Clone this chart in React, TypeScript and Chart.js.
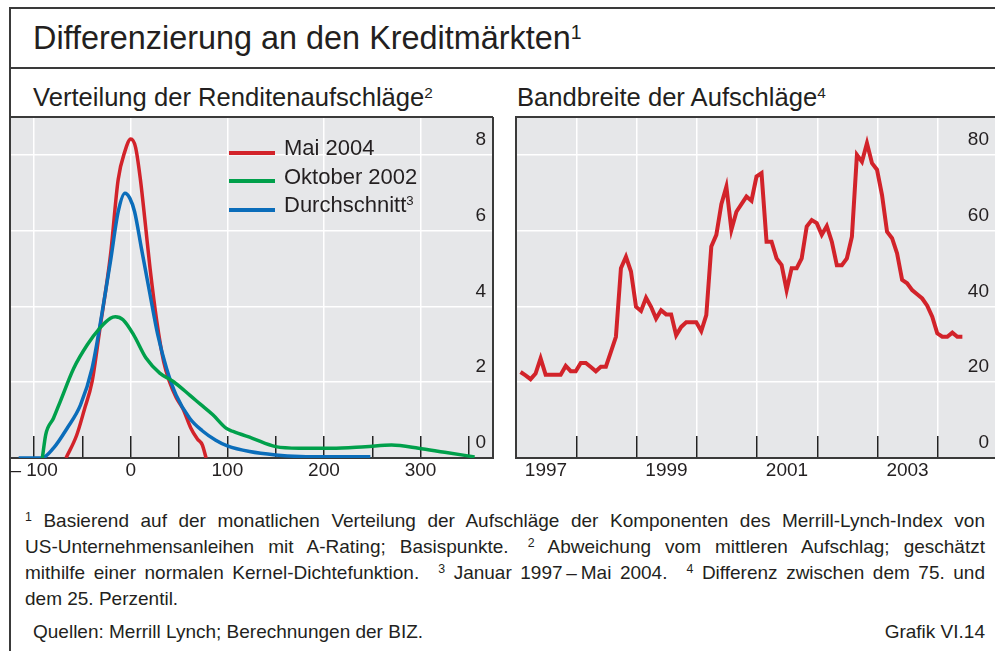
import React, { useEffect, useRef } from 'react';
import { Chart, registerables } from 'chart.js';

Chart.register(...registerables);

// ---------- text ----------
const TITLE = 'Differenzierung an den Kreditmärkten';
const LEFT_TITLE = 'Verteilung der Renditenaufschläge';
const RIGHT_TITLE = 'Bandbreite der Aufschläge';
const SERIES_NAMES = ['Mai 2004', 'Oktober 2002', 'Durchschnitt'];

// ---------- left panel: kernel densities (x = deviation in bp, y = density) ----------
const mai2004: [number, number][] = [
  [-67, 0], [-56, 0.6], [-48, 1.28], [-40, 2.02], [-32, 3.4], [-21, 5.35], [-13, 7.35],
  [-6, 8.1], [0, 8.42], [5, 8.2], [10, 7.35], [15, 6.2], [20, 5.0], [27, 3.6], [34, 2.55],
  [40, 2.02], [47, 1.6], [54, 1.3], [62, 0.8], [69, 0.5], [74, 0.35], [78, 0],
];
const oktober2002: [number, number][] = [
  [-91.5, 0], [-88, 0.62], [-80, 1.05], [-73, 1.49], [-59, 2.37], [-45, 2.99], [-32, 3.43],
  [-21, 3.69], [-16, 3.73], [-8, 3.65], [3, 3.25], [16, 2.63], [30, 2.24], [44, 2.02],
  [61, 1.66], [72, 1.42], [85, 1.14], [99, 0.78], [106, 0.7], [126, 0.52], [150, 0.3],
  [174, 0.26], [208, 0.26], [243, 0.3], [270, 0.34], [298, 0.26], [325, 0.15], [356, 0.03],
];
const durchschnitt: [number, number][] = [
  [-116, 0], [-92, 0], [-80, 0.26], [-66, 0.78], [-52, 1.4], [-40, 2.37], [-30, 3.78],
  [-21, 5.19], [-13, 6.5], [-6, 6.99], [-1, 6.86], [4, 6.5], [11, 5.54], [20, 4.31],
  [28, 3.25], [37, 2.37], [47, 1.66], [61, 1.05], [74, 0.72], [88, 0.47], [100, 0.32],
  [123, 0.17], [150, 0.08], [175, 0.04], [210, 0.03], [248, 0.03],
];
const spreadTickLabels = [-100, 0, 100, 200, 300];
const densityTickLabels = [0, 2, 4, 6, 8];

// ---------- right panel: monthly range (75th - 25th percentile), Jan 1997 - May 2004 ----------
const bandStartYear = 1997;
const bandValues = [
  22.7, 21.8, 20.8, 22.3, 26.3, 22.0, 22.0, 22.0, 22.0, 24.3, 22.9, 22.9,
  25.1, 25.1, 24.0, 22.9, 24.1, 24.1, 28.0, 32.0, 50.1, 53.1, 49.2, 39.9,
  38.8, 42.3, 39.9, 36.8, 39.0, 37.9, 37.9, 32.4, 34.6, 35.8, 35.8, 35.8,
  33.5, 37.7, 55.8, 58.9, 67.0, 71.6, 60.2, 65.0, 67.0, 69.0, 67.9, 74.3,
  75.2, 57.1, 57.1, 52.7, 50.9, 44.3, 50.1, 50.1, 52.7, 61.1, 62.8, 62.0,
  58.9, 61.2, 57.1, 50.9, 50.9, 52.7, 58.4, 80.0, 78.2, 83.1, 77.8, 76.1,
  69.4, 59.7, 58.0, 54.0, 47.0, 46.1, 44.3, 43.2, 42.1, 40.2, 37.3, 32.9,
  32.0, 32.0, 33.1, 32.0, 32.0,
];
const yearTickLabels = [1997, 1999, 2001, 2003];
const bandTickLabels = [0, 20, 40, 60, 80];

// ---------- styles ----------
const FONT = '"Liberation Sans", Arial, Helvetica, sans-serif';
const TEXT = '#231f20';
const RED = '#d2232a';
const GREEN = '#00a04b';
const BLUE = '#0b6dba';
const PLOT_BG = '#e6e7e9';
const GRID = '#ffffff';
const FRAME = '#3a3a3a';
const TICK = '#222222';
const CLEAR = 'rgba(0,0,0,0)';

Chart.defaults.font.family = FONT;
Chart.defaults.color = TEXT;

const panelPlugin = (drawRight: boolean) => ({
  id: 'panel',
  beforeDraw(chart: any) {
    const { ctx, chartArea: a } = chart;
    ctx.save();
    ctx.fillStyle = PLOT_BG;
    ctx.fillRect(a.left, a.top, a.right - a.left, a.bottom - a.top);
    ctx.restore();
  },
  beforeDatasetsDraw(chart: any) {
    const { ctx, chartArea: a } = chart;
    ctx.save();
    ctx.strokeStyle = FRAME;
    ctx.lineWidth = 2;
    ctx.beginPath();
    ctx.moveTo(a.right + (drawRight ? 0 : 2), a.top);
    ctx.lineTo(a.left, a.top);
    ctx.lineTo(a.left, a.bottom);
    ctx.lineTo(a.right + (drawRight ? 0 : 2), a.bottom);
    if (drawRight) {
      ctx.lineTo(a.right, a.top);
    }
    ctx.stroke();
    ctx.restore();
  },
});

const fmtSpread = (v: number) => (v < 0 ? '\u2013 ' + Math.abs(v) : String(v));

function DensityChart() {
  const ref = useRef<HTMLCanvasElement>(null);
  useEffect(() => {
    const mk = (label: string, pts: [number, number][], color: string) => ({
      label,
      data: pts.map(([x, y]) => ({ x, y })),
      borderColor: color,
      backgroundColor: color,
      borderWidth: 3.5,
      pointRadius: 0,
      cubicInterpolationMode: 'monotone' as const,
      fill: false,
    });
    const chart = new Chart(ref.current as HTMLCanvasElement, {
      type: 'line',
      data: {
        datasets: [
          mk(SERIES_NAMES[1], oktober2002, GREEN),
          mk(SERIES_NAMES[2], durchschnitt, BLUE),
          mk(SERIES_NAMES[0], mai2004, RED),
        ],
      },
      options: {
        animation: false,
        responsive: false,
        maintainAspectRatio: false,
        layout: { padding: { left: 10, top: 17, right: 7, bottom: 0 } },
        plugins: { legend: { display: false }, tooltip: { enabled: false } },
        scales: {
          x: {
            type: 'linear',
            position: 'bottom',
            min: -125,
            max: 375,
            afterFit: (s: any) => {
              s.height = 42;
              s.paddingLeft = 0;
              s.paddingRight = 0;
            },
            border: { display: false },
            grid: {
              color: (c: any) => (c.tick && spreadTickLabels.includes(c.tick.value) ? GRID : CLEAR),
              lineWidth: 1.5,
              drawTicks: true,
              tickLength: -22,
              tickWidth: 1.5,
              tickColor: (c: any) => (c.tick && c.tick.value % 50 === 0 ? TICK : CLEAR),
            },
            ticks: {
              maxTicksLimit: 20,
              includeBounds: false,
              autoSkip: false,
              maxRotation: 0,
              minRotation: 0,
              padding: 23,
              color: TEXT,
              font: { size: 19 },
              callback: (v: any) => (spreadTickLabels.includes(Number(v)) ? fmtSpread(Number(v)) : ''),
            },
          },
          y: {
            type: 'linear',
            position: 'right',
            min: 0,
            max: 9,
            afterFit: (s: any) => {
              s.width = 0;
              s.paddingTop = 0;
              s.paddingBottom = 0;
            },
            border: { display: false },
            grid: {
              color: (c: any) => (c.tick && c.tick.value > 0 && densityTickLabels.includes(c.tick.value) ? GRID : CLEAR),
              lineWidth: 1.5,
              drawTicks: false,
            },
            ticks: {
              stepSize: 2,
              includeBounds: false,
              mirror: true,
              padding: -7,
              labelOffset: -15,
              color: TEXT,
              font: { size: 19 },
              callback: (v: any) => (densityTickLabels.includes(Number(v)) ? String(v) : ''),
            },
          },
        },
      } as any,
      plugins: [panelPlugin(true)],
    });
    return () => chart.destroy();
  }, []);
  return (
    <canvas
      ref={ref}
      width={500}
      height={400}
      style={{ position: 'absolute', left: 0, top: 100, width: 500, height: 400 }}
    />
  );
}

function BandChart() {
  const ref = useRef<HTMLCanvasElement>(null);
  useEffect(() => {
    const chart = new Chart(ref.current as HTMLCanvasElement, {
      type: 'line',
      data: {
        datasets: [
          {
            label: RIGHT_TITLE,
            data: bandValues.map((v, i) => ({ x: bandStartYear + (i + 0.9) / 12, y: v })),
            borderColor: RED,
            backgroundColor: RED,
            borderWidth: 4,
            borderJoinStyle: 'miter',
            pointRadius: 0,
            tension: 0,
            fill: false,
          },
        ],
      },
      options: {
        animation: false,
        responsive: false,
        maintainAspectRatio: false,
        layout: { padding: { left: 16, top: 17, right: 0, bottom: 0 } },
        plugins: { legend: { display: false }, tooltip: { enabled: false } },
        scales: {
          x: {
            type: 'linear',
            position: 'bottom',
            min: 1997,
            max: 2004.95,
            afterFit: (s: any) => {
              s.height = 42;
              s.paddingLeft = 0;
              s.paddingRight = 0;
            },
            border: { display: false },
            grid: {
              color: (c: any) => (c.tick && c.tick.value > bandStartYear ? GRID : CLEAR),
              lineWidth: 1.5,
              drawTicks: true,
              tickLength: -22,
              tickWidth: 1.5,
              tickColor: (c: any) => (c.tick && c.tick.value > bandStartYear ? TICK : CLEAR),
            },
            ticks: {
              stepSize: 1,
              maxTicksLimit: 30,
              includeBounds: false,
              autoSkip: false,
              maxRotation: 0,
              minRotation: 0,
              padding: 23,
              labelOffset: 30,
              color: TEXT,
              font: { size: 19 },
              callback: (v: any) => (yearTickLabels.includes(Number(v)) ? String(v) : ''),
            },
          },
          y: {
            type: 'linear',
            position: 'right',
            min: 0,
            max: 90,
            afterFit: (s: any) => {
              s.width = 0;
              s.paddingTop = 0;
              s.paddingBottom = 0;
            },
            border: { display: false },
            grid: {
              color: (c: any) => (c.tick && c.tick.value > 0 && bandTickLabels.includes(c.tick.value) ? GRID : CLEAR),
              lineWidth: 1.5,
              drawTicks: false,
            },
            ticks: {
              stepSize: 20,
              includeBounds: false,
              mirror: true,
              padding: -6,
              labelOffset: -15,
              color: TEXT,
              font: { size: 19 },
              callback: (v: any) => (bandTickLabels.includes(Number(v)) ? String(v) : ''),
            },
          },
        },
      } as any,
      plugins: [panelPlugin(false)],
    });
    return () => chart.destroy();
  }, []);
  return (
    <canvas
      ref={ref}
      width={495}
      height={400}
      style={{ position: 'absolute', left: 500, top: 100, width: 495, height: 400 }}
    />
  );
}

const Sup = ({ children, size = '0.6em', raise = '0.5em' }: any) => (
  <span style={{ fontSize: size, verticalAlign: raise, lineHeight: 0 }}>{children}</span>
);

const legendColors = [RED, GREEN, BLUE];

export default function App() {
  const abs = (s: any) => ({ position: 'absolute' as const, ...s });
  const lineStyle = (extra: any) => ({
    textAlign: 'justify' as const,
    textAlignLast: 'justify' as const,
    height: 26,
    ...extra,
  });
  const fnSup = (n: string) => (
    <Sup size="0.65em" raise="0.45em">
      {n}
    </Sup>
  );
  return (
    <div
      style={{
        position: 'absolute',
        left: 0,
        top: 0,
        width: 995,
        height: 651,
        background: '#ffffff',
        overflow: 'hidden',
        fontFamily: FONT,
        color: TEXT,
      }}
    >
      {/* frame */}
      <div style={abs({ left: 9, top: 7, width: 986, height: 2, background: FRAME })} />
      <div style={abs({ left: 9, top: 67, width: 986, height: 2, background: FRAME })} />
      <div style={abs({ left: 9, top: 7, width: 2, height: 644, background: FRAME })} />

      <div style={abs({ left: 33, top: 22, fontSize: 32.4, lineHeight: '32px', whiteSpace: 'nowrap' })}>
        {TITLE}
        <Sup>1</Sup>
      </div>
      <div style={abs({ left: 33, top: 84.5, fontSize: 25.6, lineHeight: '25px', whiteSpace: 'nowrap' })}>
        {LEFT_TITLE}
        <Sup>2</Sup>
      </div>
      <div style={abs({ left: 517, top: 84.5, fontSize: 25.6, lineHeight: '25px', whiteSpace: 'nowrap' })}>
        {RIGHT_TITLE}
        <Sup>4</Sup>
      </div>

      <DensityChart />
      <BandChart />

      {/* legend */}
      {SERIES_NAMES.map((name, i) => (
        <React.Fragment key={name}>
          <div style={abs({ left: 229, top: 150.7 + i * 28.6, width: 46, height: 4, background: legendColors[i] })} />
          <div style={abs({ left: 284, top: 137 + i * 28.6, fontSize: 22, lineHeight: '22px', whiteSpace: 'nowrap' })}>
            {name}
            {i === 2 ? <Sup>3</Sup> : null}
          </div>
        </React.Fragment>
      ))}

      {/* footnotes */}
      <div style={abs({ left: 25, top: 508, width: 960, fontSize: 19, lineHeight: '26px' })}>
        <div style={lineStyle({})}>
          {fnSup('1')} Basierend auf der monatlichen Verteilung der Aufschläge der Komponenten des Merrill-Lynch-Index von
        </div>
        <div style={lineStyle({})}>
          US-Unternehmensanleihen mit A-Rating; Basispunkte.{'\u2002\u2002'}{fnSup('2')} Abweichung vom mittleren Aufschlag; geschätzt
        </div>
        <div style={lineStyle({})}>
          mithilfe einer normalen Kernel-Dichtefunktion.{'\u2002\u2002'}{fnSup('3')} Januar 1997{'\u2009\u2013\u2009'}Mai 2004.{'\u2002\u2002'}{fnSup('4')} Differenz zwischen dem 75. und
        </div>
        <div style={{ height: 26 }}>dem 25. Perzentil.</div>
      </div>
      <div style={abs({ left: 33, top: 619, fontSize: 19, lineHeight: '26px', whiteSpace: 'nowrap' })}>
        Quellen: Merrill Lynch; Berechnungen der BIZ.
      </div>
      <div style={abs({ right: 10, top: 619, fontSize: 19, lineHeight: '26px', whiteSpace: 'nowrap' })}>
        Grafik VI.14
      </div>
    </div>
  );
}
